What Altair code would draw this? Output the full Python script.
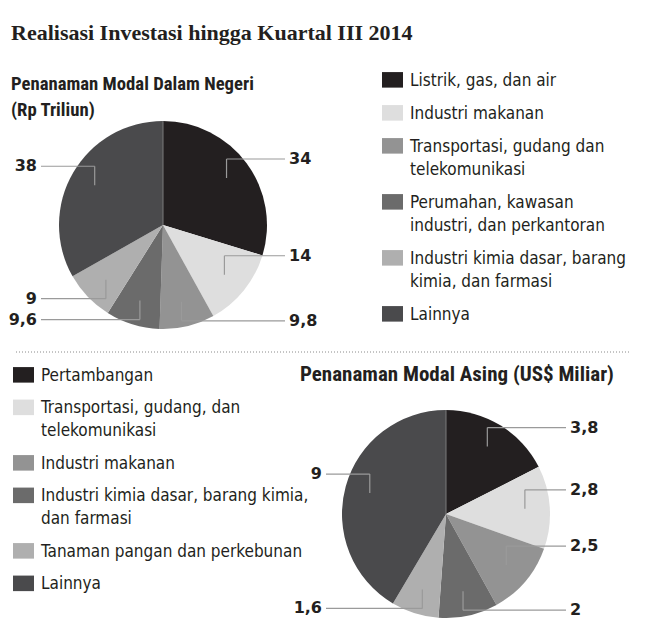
import json
import math

import altair as alt
import pandas as pd

# ---------------- data ----------------
dn_sectors = [
    "Listrik, gas, dan air",
    "Industri makanan",
    "Transportasi, gudang dan telekomunikasi",
    "Perumahan, kawasan industri, dan perkantoran",
    "Industri kimia dasar, barang kimia, dan farmasi",
    "Lainnya",
]
dn_values = [34, 14, 9.8, 9.6, 9, 38]
dn_labels = ["34", "14", "9,8", "9,6", "9", "38"]

pma_sectors = [
    "Pertambangan",
    "Transportasi, gudang, dan telekomunikasi",
    "Industri makanan",
    "Industri kimia dasar, barang kimia, dan farmasi",
    "Tanaman pangan dan perkebunan",
    "Lainnya",
]
pma_values = [3.8, 2.8, 2.5, 2, 1.6, 9]
pma_labels = ["3,8", "2,8", "2,5", "2", "1,6", "9"]

title_text = ["Realisasi Investasi hingga Kuartal III 2014"]
dn_title = ["Penanaman Modal Dalam Negeri", "(Rp Triliun)"]
pma_title = ["Penanaman Modal Asing (US$ Miliar)"]

# legend line breaks (text layout only)
dn_wrap = {
    "Transportasi, gudang dan telekomunikasi": ["Transportasi, gudang dan", "telekomunikasi"],
    "Perumahan, kawasan industri, dan perkantoran": ["Perumahan, kawasan", "industri, dan perkantoran"],
    "Industri kimia dasar, barang kimia, dan farmasi": ["Industri kimia dasar, barang", "kimia, dan farmasi"],
}
pma_wrap = {
    "Transportasi, gudang, dan telekomunikasi": ["Transportasi, gudang, dan", "telekomunikasi"],
    "Industri kimia dasar, barang kimia, dan farmasi": ["Industri kimia dasar, barang kimia,", "dan farmasi"],
}

# ---------------- styles / layout ----------------
shades = ["#231f20", "#dedede", "#939393", "#6b6b6b", "#afafaf", "#4a4a4c"]
W, H = 650, 640
R = 104
DN_C = (163, 225)
PMA_C = (446, 514)
SERIF = "'Liberation Serif', 'DejaVu Serif Condensed', serif"
HEAD = "'Roboto Condensed', 'Liberation Sans Narrow', 'Lato', sans-serif"
NARROW = "'DejaVu Sans Condensed', 'Roboto', sans-serif"
BOLDNUM = "'DejaVu Sans', 'Verdana', sans-serif"
INK = "#231f20"
LEADER = "#9a9a9a"
SYM = "M-1,-0.04H1V1.44H-1Z"


def leaders(values, labels, c, reach, frac=0.76, drop=19):
    total = float(sum(values))
    rows, acc = [], 0.0
    for v, lab in zip(values, labels):
        mid = (acc + v / 2.0) / total * 2 * math.pi
        acc += v
        ax = c[0] + frac * R * math.sin(mid)
        ay = c[1] - frac * R * math.cos(mid)
        deg = math.degrees(mid)
        up = deg < 150 or deg > 270
        ey = ay - drop if up else ay + drop
        side = 1 if math.sin(mid) > 0 else -1
        ex = c[0] + side * reach
        rows.append(dict(ax=ax, ay=ay, ey=ey, ex=ex, tx=ex + side * 4,
                         label=lab, right=side > 0))
    return pd.DataFrame(rows)


def wrap_expr(wrap):
    expr = "datum.label"
    for full, lines in wrap.items():
        expr = f"(datum.label === {json.dumps(full)} ? {json.dumps(lines)} : {expr})"
    return expr


def legend(x, y, wrap, row_pad):
    return alt.Legend(
        title=None, orient="none", legendX=x, legendY=y, padding=0,
        symbolType=SYM, symbolSize=441, symbolStrokeWidth=0, symbolOpacity=1,
        labelExpr=wrap_expr(wrap), labelBaseline="top", labelFont=NARROW,
        labelFontSize=17, labelColor=INK, labelOffset=7, labelLimit=400,
        rowPadding=row_pad,
    )


def pie(sectors, values, field, c, lx, ly, wrap, row_pad):
    df = pd.DataFrame({field: sectors, "nilai": values, "urut": range(len(values))})
    return alt.Chart(df).mark_arc(outerRadius=R).encode(
        theta=alt.Theta("nilai:Q", stack=True),
        order=alt.Order("urut:Q", sort="ascending"),
        color=alt.Color(f"{field}:N", scale=alt.Scale(domain=sectors, range=shades),
                        legend=legend(lx, ly, wrap, row_pad)),
        x=alt.value(c[0]),
        y=alt.value(c[1]),
    )


def leader_layers(values, labels, c, reach):
    df = leaders(values, labels, c, reach)
    px = lambda f: alt.X(f"{f}:Q", scale=None)
    py = lambda f: alt.Y(f"{f}:Q", scale=None)
    vert = alt.Chart(df).mark_rule(color=LEADER, strokeWidth=1.2).encode(
        x=px("ax"), y=py("ay"), y2="ey:Q")
    horiz = alt.Chart(df).mark_rule(color=LEADER, strokeWidth=1.2).encode(
        x=px("ax"), x2="ex:Q", y=py("ey"))
    txt_r = alt.Chart(df[df.right]).mark_text(
        align="left", baseline="middle", font=BOLDNUM, fontWeight="bold",
        fontSize=16, color=INK).encode(x=px("tx"), y=py("ey"), text="label:N")
    txt_l = alt.Chart(df[~df.right]).mark_text(
        align="right", baseline="middle", font=BOLDNUM, fontWeight="bold",
        fontSize=16, color=INK).encode(x=px("tx"), y=py("ey"), text="label:N")
    return [vert, horiz, txt_r, txt_l]


def seam(c):
    df = pd.DataFrame({"x": [c[0]], "y": [c[1]], "y2": [c[1] - R]})
    return alt.Chart(df).mark_rule(color="#7a7a7a", strokeWidth=1).encode(
        x=alt.X("x:Q", scale=None), y=alt.Y("y:Q", scale=None), y2="y2:Q")


title = alt.Chart(pd.DataFrame({"t": title_text})).mark_text(
    align="left", baseline="alphabetic", font=SERIF, fontWeight="bold",
    fontSize=22, color=INK
).encode(text="t:N", x=alt.value(11), y=alt.value(40))

sub1 = alt.Chart(pd.DataFrame({"t": [dn_title]})).mark_text(
    align="left", baseline="alphabetic", font=HEAD, fontWeight="bold",
    fontSize=18.7, lineHeight=26, color=INK
).encode(text="t", x=alt.value(11), y=alt.value(90))

sub2 = alt.Chart(pd.DataFrame({"t": pma_title})).mark_text(
    align="left", baseline="alphabetic", font=HEAD, fontWeight="bold",
    fontSize=21, color=INK
).encode(text="t:N", x=alt.value(300), y=alt.value(381))

sep = alt.Chart(pd.DataFrame({"a": [0]})).mark_rule(
    color="#8a8a8a", strokeWidth=1, strokeDash=[1, 2]
).encode(x=alt.value(16), x2=alt.value(629), y=alt.value(352))

layers = [
    title, sub1, sub2, sep,
    pie(dn_sectors, dn_values, "sektor_pmdn", DN_C, 382, 62, dn_wrap, 6),
    pie(pma_sectors, pma_values, "sektor_pma", PMA_C, 13, 357, pma_wrap, 5.5),
    seam(DN_C), seam(PMA_C),
]
layers += leader_layers(dn_values, dn_labels, DN_C, 122)
layers += leader_layers(pma_values, pma_labels, PMA_C, 120)

chart = alt.layer(*layers).resolve_scale(
    color="independent", theta="independent"
).properties(
    width=W, height=H, padding=0, autosize=alt.AutoSizeParams(type="none"),
    background="white",
    config=alt.Config(view=alt.ViewConfig(stroke=None),
                      style={"guide-label": {"lineHeight": 23}}),
)

chart.save("out.html", embed_options={"renderer": "svg", "actions": False})
